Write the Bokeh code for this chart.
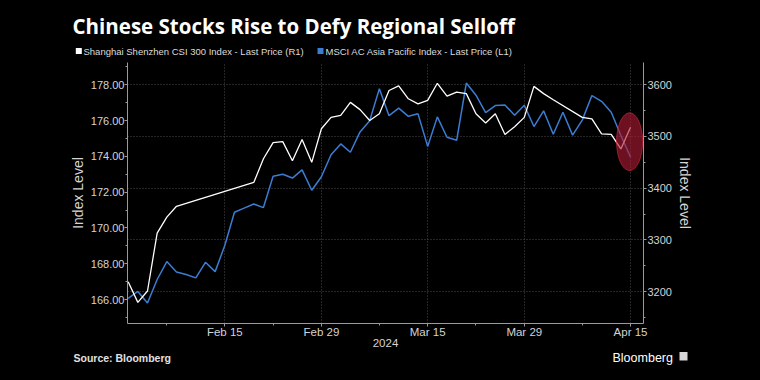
import pandas as pd
from bokeh.plotting import figure
from bokeh.layouts import column
from bokeh.models import Range1d, LinearAxis, FixedTicker, NumeralTickFormatter
from bokeh.core.properties import value
from bokeh.embed import file_html
from bokeh.resources import INLINE

# ---------------- data ----------------
trading_days = [d.strftime("%Y-%m-%d") for d in pd.bdate_range("2024-02-01", "2024-04-15")]

msci_values = [166.07, 166.45, 165.81, 167.12, 168.12, 167.54, 167.40, 167.21, 168.08, 167.56,
               169.02, 170.88, 171.11, 171.34, 171.14, 172.89, 173.00, 172.79, 173.25, 172.11,
               172.86, 174.09, 174.70, 174.23, 175.37, 176.00, 177.78, 176.28, 176.70, 176.24,
               176.38, 174.56, 176.21, 175.07, 174.90, 178.10, 177.42, 176.45, 176.84, 176.88,
               176.30, 176.86, 175.67, 176.55, 175.24, 176.47, 175.19, 176.03, 177.40, 177.08,
               176.47, 175.17, 173.96]

csi_dates = ["2024-02-01", "2024-02-02", "2024-02-05", "2024-02-06", "2024-02-07", "2024-02-08",
             "2024-02-20", "2024-02-21", "2024-02-22", "2024-02-23", "2024-02-26", "2024-02-27",
             "2024-02-28", "2024-02-29", "2024-03-01", "2024-03-04", "2024-03-05", "2024-03-06",
             "2024-03-07", "2024-03-08", "2024-03-11", "2024-03-12", "2024-03-13", "2024-03-14",
             "2024-03-15", "2024-03-18", "2024-03-19", "2024-03-20", "2024-03-21", "2024-03-22",
             "2024-03-25", "2024-03-26", "2024-03-27", "2024-03-28", "2024-03-29", "2024-04-01",
             "2024-04-02", "2024-04-03", "2024-04-08", "2024-04-09", "2024-04-10", "2024-04-11",
             "2024-04-12", "2024-04-15"]
csi_values = [3219, 3179, 3201, 3313, 3344, 3365,
              3411, 3457, 3488, 3490, 3453, 3494, 3450, 3515,
              3537, 3541, 3566, 3552, 3531, 3544,
              3589, 3598, 3573, 3563, 3570,
              3603, 3578, 3586, 3583, 3544,
              3526, 3544, 3504, 3519, 3537,
              3597, 3583, 3571,
              3537, 3534, 3505, 3504, 3476, 3518]

tick_dates = ["2024-02-15", "2024-02-29", "2024-03-15", "2024-03-29", "2024-04-15"]
tick_labels = ["Feb 15", "Feb 29", "Mar 15", "Mar 29", "Apr 15"]
minor_tick_dates = ["2024-02-07", "2024-02-22", "2024-03-08", "2024-03-22", "2024-04-08"]

left_ticks = [166, 168, 170, 172, 174, 176, 178]
left_minor = [165, 167, 169, 171, 173, 175, 177, 179]
right_ticks = [3200, 3300, 3400, 3500, 3600]
right_minor = [3150, 3250, 3350, 3450, 3550]

highlight_date = "2024-04-15"
highlight_level = 3490

title_text = "Chinese Stocks Rise to Defy Regional Selloff"
legend_csi = "Shanghai Shenzhen CSI 300 Index - Last Price (R1)"
legend_msci = "MSCI AC Asia Pacific Index - Last Price (L1)"
source_text = "Source: Bloomberg"
brand_text = "Bloomberg"

# ---------------- styling constants ----------------
W = 760
HEADER_H = 62
MAIN_H = 288
FOOTER_H = 380 - HEADER_H - MAIN_H
FONT = "Liberation Sans"
GRID = "#4a4a4a"
AXC = "#9a9a9a"
TXT = "#d4d4d4"
BLUE = "#3b7dd2"


def blank_fig(h):
    f = figure(width=W, height=h, output_backend="svg", toolbar_location=None, title=None,
               x_range=Range1d(0, W), y_range=Range1d(h, 0),
               x_axis_location=None, y_axis_location=None,
               background_fill_color="black", border_fill_color="black",
               outline_line_color=None, min_border=0, frame_align=False,
               min_border_left=0, min_border_right=0, min_border_top=0, min_border_bottom=0)
    f.xgrid.visible = False
    f.ygrid.visible = False
    return f


# ---------------- header ----------------
head = blank_fig(HEADER_H)
head.text(x=[72], y=[25], text=[title_text], text_font=value("Open Sans"),
          text_font_size="20.5px", text_font_style="bold", text_color="#ffffff",
          text_baseline="middle", text_align="left")
head.scatter(x=[78.3, 320], y=[50.5, 50.5], marker="square", size=6,
             color=["#ffffff", BLUE], line_color=None)
head.text(x=[83, 325], y=[50.5, 50.5], text=[legend_csi, legend_msci],
          text_font=value(FONT), text_font_size="9.5px", text_color="#dcdcdc",
          text_baseline="middle", text_align="left")

# ---------------- main chart ----------------
pos = {d: i for i, d in enumerate(trading_days)}
msci_x = list(range(len(trading_days)))
csi_x = [pos[d] for d in csi_dates]

p = figure(width=W, height=MAIN_H, output_backend="svg", toolbar_location=None, title=None,
           x_range=Range1d(-0.07, 53.34), y_range=Range1d(3138.1, 3643.2),
           y_axis_location="right", frame_align=False,
           background_fill_color="black", border_fill_color="black",
           outline_line_color=None,
           min_border_left=127, min_border_right=117,
           min_border_top=0, min_border_bottom=MAIN_H - 261)

p.extra_y_ranges = {"msci": Range1d(164.66, 179.25)}
left_axis = LinearAxis(y_range_name="msci")
p.add_layout(left_axis, "left")
right_axis = [a for a in p.yaxis if a is not left_axis][0]


def style_axis(ax):
    ax.axis_line_color = AXC
    ax.major_tick_line_color = AXC
    ax.minor_tick_line_color = AXC
    ax.major_tick_in = 0
    ax.major_tick_out = 3
    ax.minor_tick_in = 0
    ax.minor_tick_out = 2
    ax.major_label_text_color = TXT
    ax.major_label_text_font = FONT
    ax.major_label_text_font_size = "11px"
    ax.axis_label_text_color = TXT
    ax.axis_label_text_font = FONT
    ax.axis_label_text_font_style = "normal"
    ax.axis_label_text_font_size = "14px"


style_axis(left_axis)
left_axis.ticker = FixedTicker(ticks=left_ticks, minor_ticks=left_minor)
left_axis.formatter = NumeralTickFormatter(format="0.00")
left_axis.axis_label = "Index Level"
left_axis.major_label_standoff = 0
left_axis.axis_label_standoff = 2

style_axis(right_axis)
right_axis.ticker = FixedTicker(ticks=right_ticks, minor_ticks=right_minor)
right_axis.formatter = NumeralTickFormatter(format="0")
right_axis.axis_label = "Index Level"
right_axis.major_label_standoff = 1
right_axis.axis_label_standoff = 2

xa = p.xaxis[0]
style_axis(xa)
xa.major_label_text_font_size = "11.5px"
xa.axis_label_text_font_size = "11.5px"
xa.ticker = FixedTicker(ticks=[pos[d] for d in tick_dates],
                        minor_ticks=[pos[d] for d in minor_tick_dates])
xa.major_label_overrides = {pos[d]: lab for d, lab in zip(tick_dates, tick_labels)}
xa.axis_label = "2024"
xa.major_label_standoff = -1
xa.axis_label_standoff = -2

p.xgrid.ticker = FixedTicker(ticks=[pos[d] for d in tick_dates])
p.xgrid.grid_line_color = GRID
p.xgrid.grid_line_dash = "1 2"
p.ygrid.ticker = FixedTicker(ticks=right_ticks)
p.ygrid.grid_line_color = GRID
p.ygrid.grid_line_dash = "1 2"

p.line(msci_x, msci_values, y_range_name="msci", line_color=BLUE, line_width=1.5)
p.line(csi_x, csi_values, line_color="#ffffff", line_width=1.3)

p.ellipse(x=[pos[highlight_date] - 0.1], y=[highlight_level], width=2.7, height=112,
          fill_color="#b01c34", fill_alpha=0.62, line_color="#c8243c", line_alpha=0.7)

# ---------------- footer ----------------
foot = blank_fig(FOOTER_H)
fy0 = HEADER_H + MAIN_H
foot.text(x=[73], y=[357.2 - fy0], text=[source_text], text_font=value(FONT),
          text_font_size="10.5px", text_font_style="bold", text_color="#e0e0e0",
          text_baseline="middle", text_align="left")
foot.text(x=[612], y=[357.4 - fy0], text=[brand_text], text_font=value(FONT),
          text_font_size="12.5px", text_color="#ffffff",
          text_baseline="middle", text_align="left")
foot.quad(left=[679], right=[687], top=[351.5 - fy0], bottom=[360 - fy0],
          fill_color="#d8d8d8", line_color=None)

layout = column(head, p, foot, spacing=0)
layout.styles = {"background-color": "#000000"}

open("out.html", "w").write(file_html(layout, INLINE))
